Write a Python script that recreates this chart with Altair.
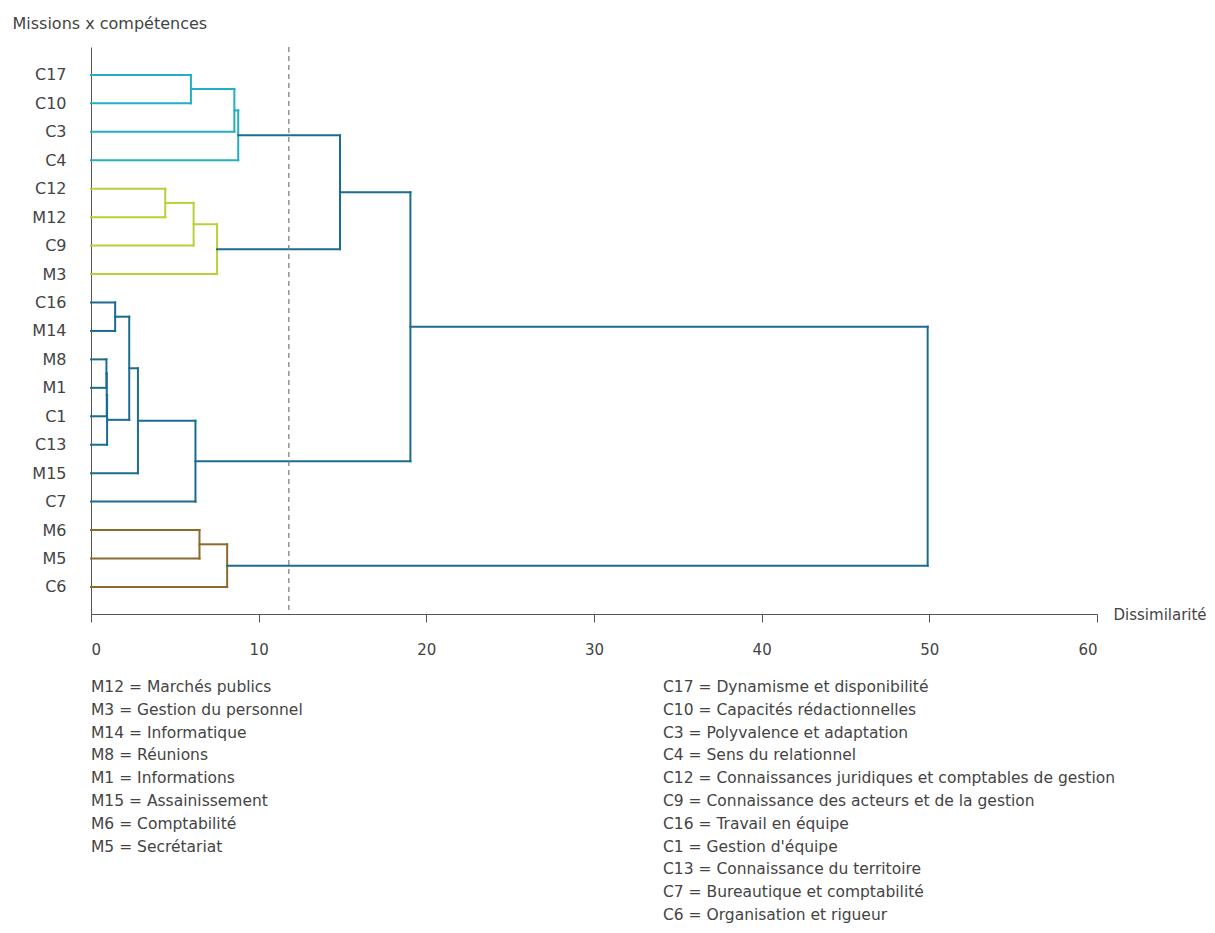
import altair as alt
import pandas as pd

# ---------------- data ----------------
leaves = ["C17", "C10", "C3", "C4", "C12", "M12", "C9", "M3", "C16", "M14",
          "M8", "M1", "C1", "C13", "M15", "C7", "M6", "M5", "C6"]

# merge k creates node "n{k}" from (merge_a[k], merge_b[k]) at height merge_h[k]
merge_a = ["C17", "n0", "n1", "C12", "n3", "n4", "n2", "C16", "M8", "n8",
           "n9", "n7", "n11", "n12", "n6", "M6", "n15", "n14"]
merge_b = ["C10", "C3", "C4", "M12", "C9", "M3", "n5", "M14", "M1", "C1",
           "C13", "n10", "M15", "C7", "n13", "M5", "C6", "n16"]
merge_h = [5.96, 8.55, 8.78, 4.43, 6.12, 7.52, 14.85, 1.44, 0.92, 0.94,
           0.96, 2.28, 2.8, 6.23, 19.05, 6.47, 8.12, 49.9]
merge_group = ["cyan", "cyan", "cyan", "green", "green", "green", "above",
               "blue", "blue", "blue", "blue", "blue", "blue", "blue",
               "above", "brown", "brown", "above"]

cut_height = 11.8

group_names = ["cyan", "green", "blue", "brown", "above"]
group_colors = ["#23AFC2", "#B6D236", "#1C6B90", "#8C6A2C", "#1C6B90"]

x_ticks = [0, 10, 20, 30, 40, 50, 60]

legend_missions = [
    "M12 = Marchés publics",
    "M3 = Gestion du personnel",
    "M14 = Informatique",
    "M8 = Réunions",
    "M1 = Informations",
    "M15 = Assainissement",
    "M6 = Comptabilité",
    "M5 = Secrétariat",
]
legend_competences = [
    "C17 = Dynamisme et disponibilité",
    "C10 = Capacités rédactionnelles",
    "C3 = Polyvalence et adaptation",
    "C4 = Sens du relationnel",
    "C12 = Connaissances juridiques et comptables de gestion",
    "C9 = Connaissance des acteurs et de la gestion",
    "C16 = Travail en équipe",
    "C1 = Gestion d'équipe",
    "C13 = Connaissance du territoire",
    "C7 = Bureautique et comptabilité",
    "C6 = Organisation et rigueur",
]

# ---------------- dendrogram segments ----------------
pos = {name: i for i, name in enumerate(leaves)}
hgt = {name: 0.0 for name in leaves}
rows = []
for k, (a, b, h, g) in enumerate(zip(merge_a, merge_b, merge_h, merge_group)):
    ya, yb = pos[a], pos[b]
    rows.append(dict(x=hgt[a], x2=h, y=ya, y2=ya, group=g))
    rows.append(dict(x=hgt[b], x2=h, y=yb, y2=yb, group=g))
    rows.append(dict(x=h, x2=h, y=ya, y2=yb, group=g))
    node = f"n{k}"
    pos[node] = (ya + yb) / 2
    hgt[node] = h
seg = pd.DataFrame(rows)

FONT = "DejaVu Sans"
TXT = "#444444"

label_array = "[" + ",".join(f'"{s}"' for s in leaves) + "]"

xscale = alt.Scale(domain=[0, 60], nice=False, zero=False)
yscale = alt.Scale(domain=[-0.98, 18.95], reverse=True, nice=False, zero=False)

links = alt.Chart(seg).mark_rule(strokeWidth=2, strokeCap="square").encode(
    x=alt.X("x:Q", scale=xscale,
            axis=alt.Axis(values=x_ticks, grid=False, tickSize=8, labelPadding=20,
                          labelFontSize=15, labelColor=TXT, labelFont=FONT,
                          domainColor="#555", tickColor="#555",
                          title="Dissimilarité", titleFont=FONT, titleFontSize=15,
                          titleFontWeight="normal", titleColor=TXT,
                          titleAngle=0, titleAlign="left", titleBaseline="middle",
                          titleX=1022, titleY=0)),
    x2="x2:Q",
    y=alt.Y("y:Q", scale=yscale,
            axis=alt.Axis(values=list(range(len(leaves))), grid=False, ticks=False,
                          tickSize=0, labelPadding=25, labelFontSize=16,
                          labelColor=TXT, labelFont=FONT, domainColor="#555",
                          labelExpr=f"{label_array}[datum.value]",
                          title="Missions x compétences", titleFont=FONT,
                          titleFontSize=16, titleFontWeight="normal", titleColor=TXT,
                          titleAngle=0, titleAlign="left", titleBaseline="middle",
                          titleX=-79, titleY=-24)),
    y2="y2:Q",
    color=alt.Color("group:N", scale=alt.Scale(domain=group_names, range=group_colors),
                    legend=None),
)

cut = alt.Chart(pd.DataFrame({"h": [cut_height]})).mark_rule(
    color="#777", strokeWidth=1.2, strokeDash=[5, 4]
).encode(x=alt.X("h:Q", scale=xscale))

one = pd.DataFrame({"k": [0]})
leg_left = alt.Chart(one).mark_text(
    text=legend_missions, align="left", baseline="alphabetic", lineHeight=22.8,
    fontSize=15.5, font=FONT, color=TXT
).encode(x=alt.value(0), y=alt.value(645))

leg_right = alt.Chart(one).mark_text(
    text=legend_competences, align="left", baseline="alphabetic", lineHeight=22.8,
    fontSize=15.5, font=FONT, color=TXT
).encode(x=alt.value(572), y=alt.value(645))

chart = alt.layer(links, cut, leg_left, leg_right).properties(
    width=1006, height=567,
    padding={"left": 83, "top": 39, "right": 110, "bottom": 311},
    autosize=alt.AutoSizeParams(type="none"),
).configure(background="white").configure_view(strokeWidth=0)

chart.save("out.html", embed_options={"renderer": "svg", "actions": False})
